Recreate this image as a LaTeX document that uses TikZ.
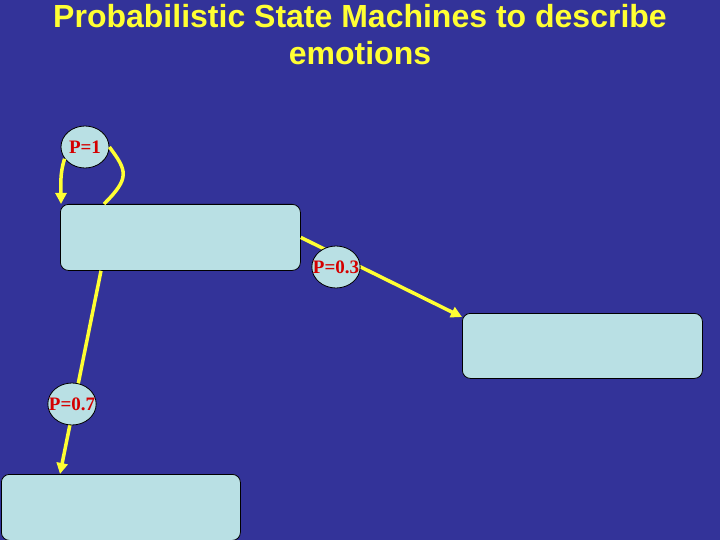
\documentclass[tikz,border=0pt]{standalone}
\usepackage{fontspec}
\setmainfont{Liberation Serif}
\setsansfont{Liberation Sans}
\usepackage{xcolor}
\usetikzlibrary{arrows.meta,shapes.geometric}
\definecolor{slideblue}{HTML}{333399}
\definecolor{statefill}{HTML}{B9E0E4}
\definecolor{probred}{HTML}{D40000}
\definecolor{flowyellow}{HTML}{FFFF33}
\tikzset{
  state box/.style={
    draw=black,
    fill=statefill,
    line width=0.8pt,
    rounded corners=8pt,
    minimum width=240pt,
    minimum height=66pt,
    inner sep=0pt,
    anchor=north west,
  },
  prob/.style={
    ellipse,
    draw=black,
    fill=statefill,
    line width=0.8pt,
    minimum width=48pt,
    minimum height=42pt,
    inner xsep=-6pt,
    inner ysep=0pt,
    text=probred,
    font=\fontsize{19}{19}\selectfont\bfseries,
  },
  flow/.style={
    draw=flowyellow,
    line width=3.5pt,
  },
  flow tip/.style={
    flow,
    -{Triangle[length=11pt,width=11pt]},
  },
  slide title/.style={
    anchor=north,
    align=center,
    inner sep=0pt,
    text=flowyellow,
    font=\sffamily\bfseries\fontsize{32}{37}\selectfont,
  }
}

\begin{document}
\begin{tikzpicture}[x=1pt,y=-1pt]
    \fill [slideblue] (0,0) rectangle (720,540);
    \useasboundingbox (0,0) rectangle (720,540);

    \node [slide title] (title) at (360,4) {Probabilistic State Machines to describe\\emotions};

    % states
    \node [state box] (s1) at (60,204) {};
    \node [state box, minimum height=65pt] (s2) at (462,313) {};
    \node [state box, minimum width=239pt] (s3) at (1,474) {};

    % transitions out of the first state
    \draw [flow tip] (s1.east) -- ([yshift=-4pt]s2.north west);
    \draw [flow tip] ([xshift=41pt]s1.south west) -- ([xshift=59pt]s3.north west);

    % probabilities
    \node [prob] (p1) at (85,147) {P=1};
    \node [prob] (p03) at (336,267) {P=0.3};
    \node [prob] (p07) at (72,404) {P=0.7};

    % self loop
    \draw [flow] ([xshift=44pt]s1.north west) .. controls +(26,-26) and +(18,24) .. (p1.east);
    \draw [flow tip] (p1.210) .. controls +(-5,15) and +(0,-18) .. ([xshift=1pt]s1.north west);
\end{tikzpicture}
\end{document}
